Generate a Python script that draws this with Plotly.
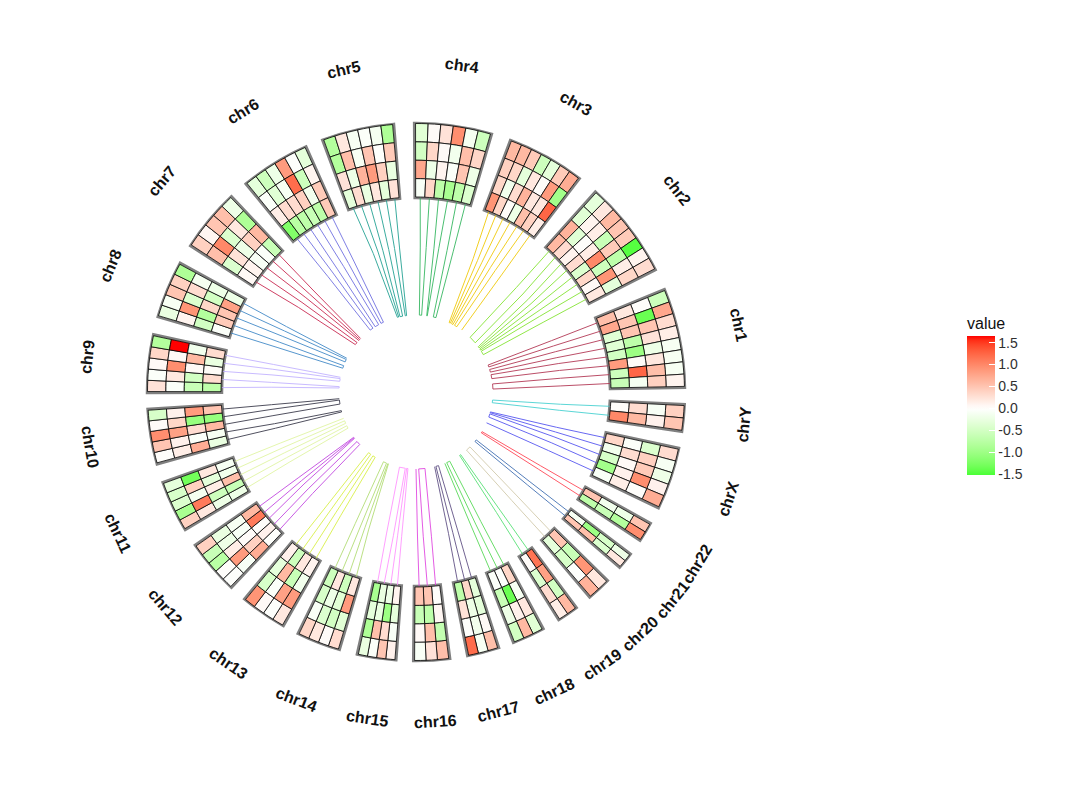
import math
import plotly.graph_objects as go

# ---------- data ----------
chromosomes = ["chr4", "chr3", "chr2", "chr1", "chrY", "chrX", "chr22", "chr21", "chr20", "chr19", "chr18", "chr17",
               "chr16", "chr15", "chr14", "chr13", "chr12", "chr11", "chr10", "chr9", "chr8", "chr7", "chr6", "chr5"]

# each block: rings outer -> inner, columns clockwise
chr4_values = [[-.35, .03, .25, .95, -.12, -.55], [-.5, .35, .03, -.15, .55, .35], [.75, -.2, .1, -.05, .5, -.2], [-.08, .35, -.7, -.9, -.7, -.4]]
chr3_values = [[.6, .6, .45, -.55, -.3, .45, .7], [.4, .35, -.3, .2, 0, .85, -.95], [.35, -.15, .3, .65, .2, .2, 1.25], [.9, .35, 0, -.2, .55, .4, .15]]
chr2_values = [[-.3, .2, .6, .5, .45, -1.45, .1, .3], [-.35, .1, .15, -.6, .45, -.7, .15, .35], [.65, -.35, 0, .15, 1.0, -.55, .9, -.3], [.6, .3, .1, .3, -.4, .35, .05, .2]]
chr1_values = [[-.55, .75, .3, .15, -.1, -.1, -.1, .1], [0, -1.35, .5, .25, -.2, .2, .55, .4], [.2, .5, .5, -.7, -1.0, .02, 1.25, -.12], [.55, .75, -.35, -.35, -.5, .85, -.55, -.6]]
chrY_values = [[.4, .5], [-.08, .12], [.3, .6], [0, 1.0]]
chrX_values = [[.3, -.1, -.2, .12, .7], [-.4, .4, .45, .95, 0], [-.05, .3, .05, .12, .15], [.35, -.15, -.45, -.95, -.08]]
chr22_values = [[.5, .95], [-.2, -.8], [-.15, -.6], [.5, -.7]]
chr21_values = [[-.2, .2], [-.45, -.4], [-1.0, .55], [-.1, .5]]
chr20_values = [[.2, .65], [.9, -.02], [-.6, -.45], [.5, -.3]]
chr19_values = [[.6, .15], [-.5, .3], [.8, -.4], [1.15, .03]]
chr18_values = [[-.35, .6, -.5], [.2, .12, -.2], [-.1, -1.35, -.6], [.35, -.03, -.05]]
chr17_values = [[.55, -.1, 1.2], [.05, -.15, -.02], [-.3, -.2, .25], [-.3, .35, -.7]]
chr16_values = [[.55, .25, -.08], [-.65, .55, .05], [.08, -.7, -.6], [0, .5, .5]]
chr15_values = [[.12, .5, -.05, -.25], [-.08, .3, .55, -.85], [-.3, -1.0, -.25, -.3], [.1, -.2, -.25, -.9]]
chr14_values = [[.3, .02, .2, .35], [-.35, -.5, -.4, -.08], [.85, -.35, -.2, -.45], [.2, -.55, .2, -.55]]
chr13_values = [[.2, -.02, .05, .9], [.85, .8, -.05, -.45], [-.15, -.6, .6, -.3], [.1, .2, -.55, .12]]
chr12_values = [[-.02, 0, -.75, -.6, .4], [-.08, .85, .15, -.2, -.25], [.7, .4, .02, -.08, -.1], [-.02, .12, 0, 1.1, .6]]
chr11_values = [[.4, -.9, -.4, -.45, -.3], [.2, 1.1, -.12, .4, -1.3], [-.2, -.55, .15, -.3, .2], [-.2, -.6, .55, -.15, -.1]]
chr10_values = [[0, .5, .95, .03, -.45], [.15, .12, .8, .35, .12], [.7, -.05, .3, -1.05, .85], [-.25, -.1, .6, -1.05, .5]]
chr9_values = [[.25, -.05, .05, .35, -.8], [-.05, .2, .95, .05, 1.65], [-.6, -.5, .05, .6, -.15], [-.7, .3, .02, -.25, .3]]
chr8_values = [[-.25, -.1, .5, .4, -.85], [.1, .9, -.4, .3, -.12], [-.5, -.8, .35, -.5, -.2], [-.05, .45, .5, .8, -.2]]
chr7_values = [[.4, .08, .5, .55, -.2], [.55, 1.0, -.4, .2, -.85], [-.4, .25, -.2, .4, .6], [.05, .1, -.08, -.05, -.6]]
chr6_values = [[-.3, -.55, -.2, .85, -.03, -.3], [-.05, -.35, -.1, 1.2, -.55, .1], [.15, .3, .3, .4, -.15, .45], [-1.2, -.75, -.7, -.6, -.7, .45]]
chr5_values = [[-.8, .2, -.1, -.05, -.12, -.85], [-.8, .55, -.1, .5, -.03, .45], [.25, -.2, .65, .85, .4, -.25], [-.3, .3, -.25, .2, -.3, .25]]
sector_values = [chr4_values, chr3_values, chr2_values, chr1_values, chrY_values, chrX_values, chr22_values, chr21_values,
                 chr20_values, chr19_values, chr18_values, chr17_values, chr16_values, chr15_values, chr14_values, chr13_values,
                 chr12_values, chr11_values, chr10_values, chr9_values, chr8_values, chr7_values, chr6_values, chr5_values]

# angular extent of each block on the theta axis (degrees clockwise from top)
sector_start = [-.4, 20.5, 41.8, 67.5, 92.6, 102, 119.2, 127, 134.5, 143.3, 151.7, 162, 172.7, 184.2, 196.5, 209.5, 223.3, 239.1, 254.4, 269.8, 286.2, 302.9, 320.7, 339.6]
sector_end = [16.4, 37.5, 63, 89.1, 98.5, 115.6, 123.6, 130.8, 139.8, 148, 158.8, 169, 180.6, 192.7, 206.1, 219.7, 235.3, 250.4, 266.4, 282.4, 298.7, 316.7, 335.9, 355.3]

# theta at which each link ends near the hub
link_end_theta = [
    [2.5, 4.2, 8, 8.4, 13, 15], [25.5, 26.5, 27.5, 28.7, 30, 32, 36.4], [44.7, 50.3, 54, 55, 56, 57, 58, 61],
    [69.5, 71, 73, 75, 77, 80, 84, 87.8], [96, 98], [105, 105.6, 106.5, 109, 113.6], [121, 122], [128.5, 130],
    [135.5, 139], [144.5, 145.5], [154, 156.5, 158], [163, 165, 166], [173.3, 178, 180], [186, 187, 188, 192.4],
    [201, 201.5, 202.5, 205], [212, 214, 216, 218], [227, 230, 233, 233.5, 234], [242, 244, 246, 248, 250],
    [255, 256, 261, 264, 265], [273, 274, 278, 280, 281], [288, 290, 293, 295, 296], [308, 310, 312, 313, 314],
    [323.5, 326, 328, 331, 333, 335], [346, 347, 348, 350, 352, 353]]
link_colors = ["#2DB45A", "#F0C800", "#7FE32A", "#B0304E", "#40D0D0", "#5050F0", "#FF4050", "#3A6AB0", "#D0C8A8", "#50E070",
               "#50D850", "#5A4A80", "#E040E0", "#FF90FF", "#B0DC70", "#D8F040", "#C040E0", "#E0F5A0", "#333344", "#C0B0FF",
               "#3A85C6", "#C8204A", "#6A6AE0", "#1A9E8F"]
legend_ticks = [-1.5, -1.0, -0.5, 0.0, 0.5, 1.0, 1.5]
legend_labels = ["-1.5", "-1.0", "-0.5", "0.0", "0.5", "1.0", "1.5"]

# ---------- geometry / style ----------
W, H = 1080, 795
CX, CY = 416, 392      # hub centre in pixels
R_AXIS = 350           # radial axis runs 0..350 so one unit is one pixel
R_HUB, R_MID, R_IN, R_OUT = 77, 145, 195, 268.5
R_LABEL = 330
VMIN, VMAX = -1.51, 1.65


def lab_to_hex(L, a, b):
    fy = (L + 16) / 116
    fx, fz = fy + a / 500, fy - b / 200
    f = lambda t: t ** 3 if t > 6 / 29 else 3 * (6 / 29) ** 2 * (t - 4 / 29)
    X, Y, Z = .95047 * f(fx), f(fy), 1.08883 * f(fz)
    rgb = (3.2406 * X - 1.5372 * Y - .4986 * Z, -.9689 * X + 1.8758 * Y + .0415 * Z, .0557 * X - .204 * Y + 1.057 * Z)
    g = lambda c: 12.92 * c if c <= .0031308 else 1.055 * c ** (1 / 2.4) - .055
    return "#%02X%02X%02X" % tuple(round(255 * min(1, max(0, g(c)))) for c in rgb)


RED, WHITE, GREEN = (53.24, 80.09, 67.2), (100, 0, 0), (87.73, -86.18, 83.18)
stops = []
for k in range(33):
    v = VMIN + (VMAX - VMIN) * k / 32
    t = abs(v) / VMAX
    end = RED if v > 0 else GREEN
    stops.append([k / 32, lab_to_hex(*[WHITE[i] + (end[i] - WHITE[i]) * min(t, 1) for i in range(3)])])

frame_base, frame_r, frame_theta, frame_width = [], [], [], []
cell_base, cell_r, cell_theta, cell_width, cell_color = [], [], [], [], []
fig = go.Figure()
for s, e, rows in zip(sector_start, sector_end, sector_values):
    frame_base.append(R_IN - 1)
    frame_r.append(R_OUT - R_IN + 1.5)
    frame_theta.append((s + e) / 2)
    frame_width.append(e - s)
    cs, ce = s + .3, e - .3
    n = len(rows[0])
    step = (ce - cs) / n
    ring = (R_OUT - R_IN) / len(rows)
    for i, row in enumerate(rows):
        for j, v in enumerate(row):
            cell_base.append(R_OUT - (i + 1) * ring)
            cell_r.append(ring)
            cell_theta.append(cs + (j + .5) * step)
            cell_width.append(step)
            cell_color.append(v)

fig.add_trace(go.Barpolar(base=frame_base, r=frame_r, theta=frame_theta, width=frame_width, hoverinfo="skip", showlegend=False,
                          marker=dict(color="white", line=dict(color="#808080", width=2.5))))
for s, e, rows, ends, color, name in zip(sector_start, sector_end, sector_values, link_end_theta, link_colors, chromosomes):
    cs, ce = s + .3, e - .3
    n = len(rows[0])
    step = (ce - cs) / n
    for j, end in enumerate(ends):
        th = cs + (j + .5) * step
        rr, tt = [R_IN - 1, R_MID, R_HUB], [th, th * .65 + end * .35, end]
        if j % 2 == 0 and j + 1 < len(ends):   # neighbouring links are capped together at the hub
            rr.append(R_HUB)
            tt.append(ends[j + 1])
        fig.add_trace(go.Scatterpolar(r=rr, theta=tt, mode="lines",
                                      line=dict(color=color, width=1), opacity=.85, hoverinfo="skip", showlegend=False, name=name))
fig.add_trace(go.Barpolar(base=cell_base, r=cell_r, theta=cell_theta, width=cell_width, showlegend=False,
                          marker=dict(color=cell_color, coloraxis="coloraxis", line=dict(color="black", width=.8))))

annotations = []
for s, e, name in zip(sector_start, sector_end, chromosomes):
    th = (s + e) / 2
    rad = math.radians(th)
    rot = th if th <= 90 else (th - 180 if th <= 270 else th - 360)
    annotations.append(dict(text="<b>%s</b>" % name, xref="paper", yref="paper", showarrow=False,
                            x=(CX + R_LABEL * math.sin(rad)) / W, y=1 - (CY - R_LABEL * math.cos(rad)) / H,
                            xanchor="center", yanchor="middle", textangle=rot,
                            font=dict(family="Liberation Sans", size=16, color="#111111")))

# colour bar geometry
BAR_X, BAR_T, BAR_TOP, BAR_BOTTOM = 967, 28, 336, 475
TITLE_H = 22
bar_y = lambda v: BAR_BOTTOM - (v - VMIN) / (VMAX - VMIN) * (BAR_BOTTOM - BAR_TOP)
shapes = [dict(type="line", xref="paper", yref="paper", x0=BAR_X / W, x1=(BAR_X + 5.6) / W, y0=1 - bar_y(v) / H, y1=1 - bar_y(v) / H,
               line=dict(color="white", width=.7), layer="above") for v in legend_ticks]

fig.update_layout(
    width=W, height=H, margin=dict(l=0, r=0, t=0, b=0), paper_bgcolor="white", plot_bgcolor="white",
    font=dict(family="Liberation Sans"), showlegend=False, annotations=annotations, shapes=shapes,
    polar=dict(
        domain=dict(x=[(CX - R_AXIS) / W, (CX + R_AXIS) / W], y=[1 - (CY + R_AXIS) / H, 1 - (CY - R_AXIS) / H]),
        bgcolor="white", barmode="overlay",
        radialaxis=dict(visible=False, range=[0, R_AXIS]),
        angularaxis=dict(visible=False, direction="clockwise", rotation=90)),
    coloraxis=dict(cmin=VMIN, cmax=VMAX, colorscale=stops, colorbar=dict(
        x=BAR_X / W, xanchor="left", xpad=0, ypad=0, y=1 - (BAR_TOP - TITLE_H + BAR_BOTTOM) / 2 / H, yanchor="middle",
        lenmode="pixels", len=BAR_BOTTOM - BAR_TOP + TITLE_H, thicknessmode="pixels", thickness=BAR_T, outlinewidth=0, borderwidth=0,
        tickmode="array", tickvals=legend_ticks, ticktext=legend_labels, ticks="inside", ticklen=5.6, tickwidth=.7, tickcolor="white",
        tickfont=dict(family="Liberation Sans", size=14, color="#303030"),
        title=dict(text="value", side="top", font=dict(family="Liberation Sans", size=16, color="#111111")))))

fig.write_html("out.html", post_script="document.body.style.margin='0'", config={"displayModeBar": False})
